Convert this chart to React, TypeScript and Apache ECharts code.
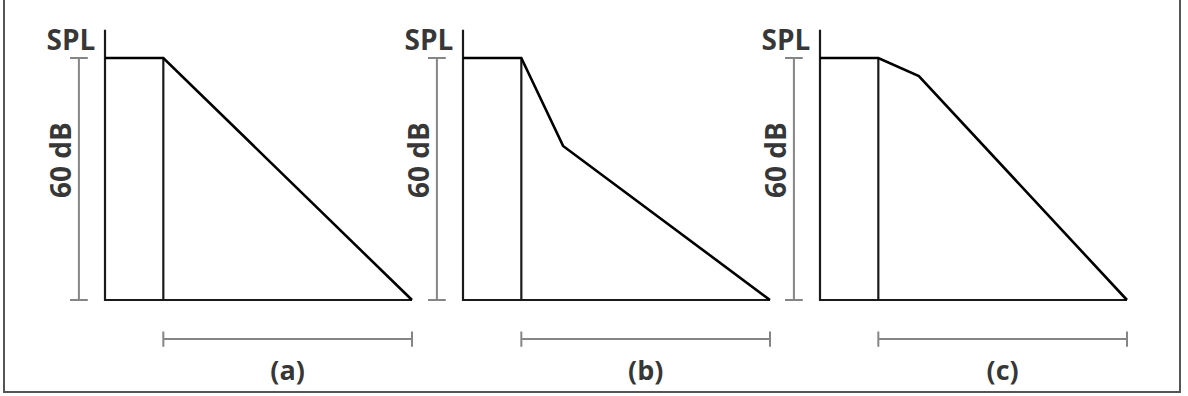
import React, { useEffect, useRef } from "react";
import * as echarts from "echarts";

// ---- data ----
const panelLabels = ["(a)", "(b)", "(c)"];
const axisLeftPx = [105, 463, 820];
const plateauLevel = 60; // dB
const plateauEnd = 19; // time units
const decayEnd = 100;
const decayCurves: number[][][] = [
  [[0, 60], [19, 60], [100, 0]],
  [[0, 60], [19, 60], [32.6, 38.2], [100, 0]],
  [[0, 60], [19, 60], [32.2, 55.5], [100, 0]],
];
const axisTop = 67;
const dimText = "60 dB";
const yTitle = "SPL";

// ---- geometry ----
const X_MIN = -30;
const X_MAX = 100;
const Y_MIN = -22;
const Y_MAX = 72;
const PX_X = 3.07;
const PX_Y = 242 / 60;
const BASE_PX = 300;

const dimX = -8.5;
const dimTick = 2.9;
const hDimY = -9.7;
const hDimTick = 1.9;

const FONT = "'Open Sans', 'DejaVu Sans', sans-serif";

function seg(points: number[][], color: string, width: number, gi: number) {
  return {
    type: "line",
    xAxisIndex: gi,
    yAxisIndex: gi,
    data: points,
    symbol: "none",
    silent: true,
    lineStyle: { color, width, cap: "butt", join: "miter" },
    z: 3,
  };
}

function label(
  pt: number[],
  text: string,
  gi: number,
  rotate = 0,
  size = 28
) {
  return {
    type: "scatter",
    xAxisIndex: gi,
    yAxisIndex: gi,
    data: [pt],
    symbolSize: 1,
    silent: true,
    itemStyle: { color: "rgba(0,0,0,0)" },
    label: {
      show: true,
      position: "inside",
      formatter: text,
      rotate,
      color: "#000",
      textBorderWidth: 0,
      fontSize: size,
      fontFamily: FONT,
      fontWeight: "bold",
    },
  };
}

export default function App() {
  const ref = useRef<HTMLDivElement>(null);
  useEffect(() => {
    if (!ref.current) return;
    const chart = echarts.init(ref.current, null, { renderer: "svg" });
    const grids: any[] = [];
    const xAxes: any[] = [];
    const yAxes: any[] = [];
    const series: any[] = [];
    const gray = "#858585";
    const dark = "#1a1a1a";
    axisLeftPx.forEach((ax, i) => {
      grids.push({
        left: ax + X_MIN * PX_X,
        width: (X_MAX - X_MIN) * PX_X,
        top: BASE_PX - Y_MAX * PX_Y,
        height: (Y_MAX - Y_MIN) * PX_Y,
        containLabel: false,
      });
      xAxes.push({ type: "value", gridIndex: i, min: X_MIN, max: X_MAX, show: false });
      yAxes.push({ type: "value", gridIndex: i, min: Y_MIN, max: Y_MAX, show: false });
      // axes
      series.push(seg([[0, axisTop], [0, 0], [decayEnd, 0]], dark, 2.2, i));
      series.push(seg([[plateauEnd, plateauLevel], [plateauEnd, 0]], dark, 2.2, i));
      series.push(seg(decayCurves[i], "#000", 2.6, i));
      // vertical dimension
      series.push(seg([[dimX, plateauLevel], [dimX, 0]], gray, 2, i));
      series.push(seg([[dimX - dimTick, plateauLevel], [dimX + dimTick, plateauLevel]], gray, 2, i));
      series.push(seg([[dimX - dimTick, 0], [dimX + dimTick, 0]], gray, 2, i));
      // horizontal dimension
      series.push(seg([[plateauEnd, hDimY], [decayEnd, hDimY]], gray, 2, i));
      series.push(seg([[plateauEnd, hDimY - hDimTick], [plateauEnd, hDimY + hDimTick]], gray, 2, i));
      series.push(seg([[decayEnd, hDimY - hDimTick], [decayEnd, hDimY + hDimTick]], gray, 2, i));
      // texts
      series.push(label([-11.1, 64.8], yTitle, i));
      series.push(label([-14.7, 34.7], dimText, i, 90));
      series.push(label([59.5, -17.3], panelLabels[i], i, 0, 27));
    });
    chart.setOption({
      animation: false,
      backgroundColor: "#fff",
      grid: grids,
      xAxis: xAxes,
      yAxis: yAxes,
      series,
      graphic: [
        {
          type: "rect",
          shape: { x: 4, y: -4, width: 1176, height: 396 },
          style: { stroke: "#555", fill: "none", lineWidth: 2 },
          silent: true,
          z: 10,
        },
      ],
    });
    return () => chart.dispose();
  }, []);
  return (
    <div
      ref={ref}
      style={{ position: "fixed", left: 0, top: 0, width: 1188, height: 396 }}
    />
  );
}
